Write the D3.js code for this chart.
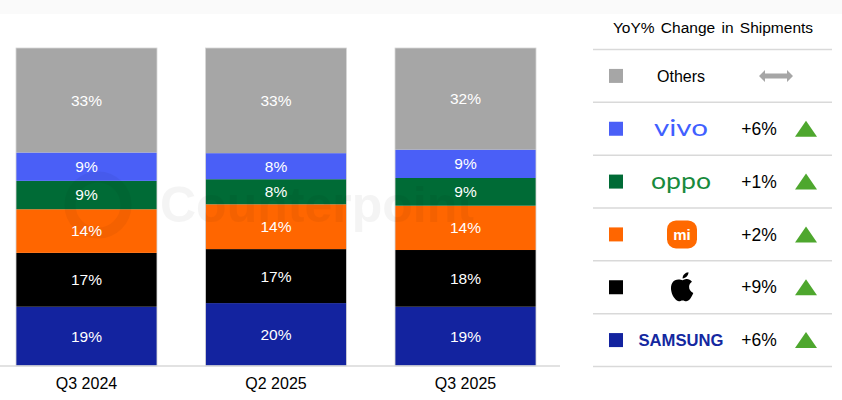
<!DOCTYPE html>
<html>
<head>
    <title>Smartphone Shipment Share</title>
    <style>
        body { margin: 0; background: #fff; }
        text { font-family: "Liberation Sans", Arial, sans-serif; }
        .bar-label { fill: #fff; font-size: 15.5px; }
        .axis text { font-size: 16px; fill: #000; }
        .axis path { stroke: #d9d9d9; stroke-width: 1.5; }
    </style>
</head>
<body>
    <div id="chart"></div>

    <script src="https://d3js.org/d3.v7.min.js"></script>
    <script>
        // quarters and brand shares (%), bottom to top
        const quarters = ["Q3 2024", "Q2 2025", "Q3 2025"];
        const brands = ["Samsung", "Apple", "Xiaomi", "OPPO", "vivo", "Others"];
        const samsung = [18.6, 19.8, 18.6];
        const apple = [16.9, 17.0, 17.8];
        const xiaomi = [13.7, 14.1, 13.9];
        const oppo = [8.9, 7.9, 8.7];
        const vivo = [8.9, 8.2, 8.9];
        const others = [32.8, 33.1, 31.9];
        const shareLabels = [
            ["19%", "17%", "14%", "9%", "9%", "33%"],
            ["20%", "17%", "14%", "8%", "8%", "33%"],
            ["19%", "18%", "14%", "9%", "9%", "32%"]
        ];
        const colors = ["#13239f", "#000000", "#ff6600", "#006b36", "#4a5ff7", "#a6a6a6"];

        // legend table (top to bottom)
        const legendRows = ["Others", "vivo", "OPPO", "Xiaomi", "Apple", "Samsung"];
        const yoyChange = [null, "+6%", "+1%", "+2%", "+9%", "+6%"];

        const width = 842, height = 400;
        const svg = d3.select("#chart").append("svg")
            .attr("width", width)
            .attr("height", height);

        // faint band along the top edge
        svg.append("rect").attr("width", width).attr("height", 14).attr("fill", "#fafafa");

        const table = quarters.map((q, i) => ({
            quarter: q, Samsung: samsung[i], Apple: apple[i], Xiaomi: xiaomi[i],
            OPPO: oppo[i], vivo: vivo[i], Others: others[i]
        }));

        const series = d3.stack().keys(brands).offset(d3.stackOffsetExpand)(table);

        const xScale = d3.scaleBand()
            .domain(quarters)
            .range([0, 552])
            .paddingInner(0.256)
            .paddingOuter(0.0844);

        const yScale = d3.scaleLinear()
            .domain([0, 1])
            .range([366, 48]);

        const bars = svg.append("g");
        series.forEach((s, si) => {
            bars.append("g").attr("fill", colors[si])
                .selectAll("rect")
                .data(s)
                .enter()
                .append("rect")
                .attr("x", d => xScale(d.data.quarter))
                .attr("y", d => yScale(d[1]))
                .attr("width", xScale.bandwidth())
                .attr("height", d => yScale(d[0]) - yScale(d[1]));
        });

        // thin light outline round each bar
        bars.selectAll("rect.outline")
            .data(quarters)
            .enter()
            .append("rect")
            .attr("class", "outline")
            .attr("x", d => xScale(d))
            .attr("y", yScale(1))
            .attr("width", xScale.bandwidth())
            .attr("height", yScale(0) - yScale(1))
            .attr("fill", "none")
            .attr("stroke", "#d6d6d6")
            .attr("stroke-width", 0.8);

        // faint watermark
        const wm = svg.append("g").attr("opacity", 0.04);
        wm.append("circle").attr("cx", 98).attr("cy", 205).attr("r", 28)
            .attr("fill", "none").attr("stroke", "#000").attr("stroke-width", 11);
        wm.append("text").attr("x", 160).attr("y", 222)
            .style("font-size", "50px").style("font-weight", "bold")
            .text("Counterpoint");

        series.forEach((s, si) => {
            svg.append("g").selectAll("text")
                .data(s)
                .enter()
                .append("text")
                .attr("class", "bar-label")
                .attr("x", d => xScale(d.data.quarter) + xScale.bandwidth() / 2)
                .attr("y", d => (yScale(d[0]) + yScale(d[1])) / 2)
                .attr("dy", "0.35em")
                .attr("text-anchor", "middle")
                .text((d, i) => shareLabels[i][si]);
        });

        const xAxis = d3.axisBottom(xScale).tickSize(0).tickPadding(12);
        const axisG = svg.append("g")
            .attr("class", "axis")
            .attr("transform", "translate(0, 366)")
            .call(xAxis);
        axisG.select(".domain").attr("d", "M0,0H560");

        // legend / YoY table
        const rowScale = d3.scaleBand()
            .domain(legendRows)
            .range([49.5, 366.5]);

        const legend = svg.append("g");
        legend.append("text")
            .attr("x", 713)
            .attr("y", 28)
            .attr("dy", "0.35em")
            .attr("text-anchor", "middle")
            .style("font-size", "15.5px")
            .style("word-spacing", "2px")
            .text("YoY% Change in Shipments");

        legend.selectAll("line")
            .data(legendRows.concat(["end"]))
            .enter()
            .append("line")
            .attr("x1", 593).attr("x2", 832)
            .attr("y1", (d, i) => i < legendRows.length ? rowScale(d) : rowScale.range()[1])
            .attr("y2", (d, i) => i < legendRows.length ? rowScale(d) : rowScale.range()[1])
            .attr("stroke", "#d9d9d9")
            .attr("stroke-width", 1.5);

        const rows = legend.selectAll("g.row")
            .data(legendRows)
            .enter()
            .append("g")
            .attr("class", "row")
            .attr("transform", d => `translate(0, ${rowScale(d) + rowScale.bandwidth() / 2})`);

        rows.append("rect")
            .attr("x", 609).attr("y", -7)
            .attr("width", 14).attr("height", 14)
            .attr("fill", d => colors[brands.indexOf(d)]);

        rows.append("text")
            .attr("x", 759)
            .attr("dy", "0.35em")
            .attr("text-anchor", "middle")
            .style("font-size", "17.5px")
            .text((d, i) => yoyChange[i] || "");

        rows.filter((d, i) => yoyChange[i])
            .append("path")
            .attr("d", "M806,-8L817,8L795,8Z")
            .attr("fill", "#4ea72e");

        rows.filter(d => d === "Others")
            .append("path")
            .attr("d", "M759,0L765,-6L765,-2.5L787,-2.5L787,-6L793,0L787,6L787,2.5L765,2.5L765,6Z")
            .attr("fill", "#a6a6a6");

        // brand names / logos
        rows.filter(d => d === "Others").append("text")
            .attr("x", 681).attr("dy", "0.35em").attr("text-anchor", "middle")
            .style("font-size", "16px").text("Others");

        rows.filter(d => d === "vivo").append("text")
            .attr("x", 681).attr("dy", "0.32em").attr("text-anchor", "middle")
            .attr("textLength", 54).attr("lengthAdjust", "spacingAndGlyphs")
            .style("font-family", "Lato, sans-serif")
            .style("font-size", "24px").attr("fill", "#415fff").text("vivo");

        rows.filter(d => d === "OPPO").append("text")
            .attr("x", 681).attr("dy", "0.32em").attr("text-anchor", "middle")
            .attr("textLength", 60).attr("lengthAdjust", "spacingAndGlyphs")
            .style("font-family", "Lato, sans-serif")
            .style("font-size", "24px").attr("fill", "#188a3c").text("oppo");

        const mi = rows.filter(d => d === "Xiaomi");
        mi.append("rect")
            .attr("x", 667).attr("y", -14).attr("width", 30).attr("height", 28)
            .attr("rx", 9).attr("fill", "#ff6900");
        mi.append("text")
            .attr("x", 682).attr("dy", "0.35em").attr("text-anchor", "middle")
            .style("font-size", "15px").style("font-weight", "bold")
            .attr("fill", "#fff").text("mi");

        rows.filter(d => d === "Apple").append("path")
            .attr("transform", "translate(667,-16) scale(1.3)")
            .attr("d", "M12,7C10,6 6,5.5 4,9C2,12.5 3.5,18 6,21C7.5,23 9,23.5 10.5,22.8C11.5,22.4 12.5,22.4 13.5,22.8C15,23.5 16.5,23 18,21C19,19.5 19.8,18 20.2,16.8C18,15.8 17,14 17,12C17,10.2 18,8.8 19.2,8C18,6.4 16.3,5.8 14.8,6C13.8,6.1 12.8,6.6 12,7Z M12,5.5C12,3 14,1 16.5,0.8C16.6,3.3 14.5,5.5 12,5.5Z")
            .attr("fill", "#000");

        rows.filter(d => d === "Samsung").append("text")
            .attr("x", 681).attr("dy", "0.36em").attr("text-anchor", "middle")
            .attr("textLength", 85).attr("lengthAdjust", "spacingAndGlyphs")
            .style("font-size", "17px").style("font-weight", "bold")
            .attr("fill", "#1428a0").text("SAMSUNG");
    </script>
</body>
</html>
